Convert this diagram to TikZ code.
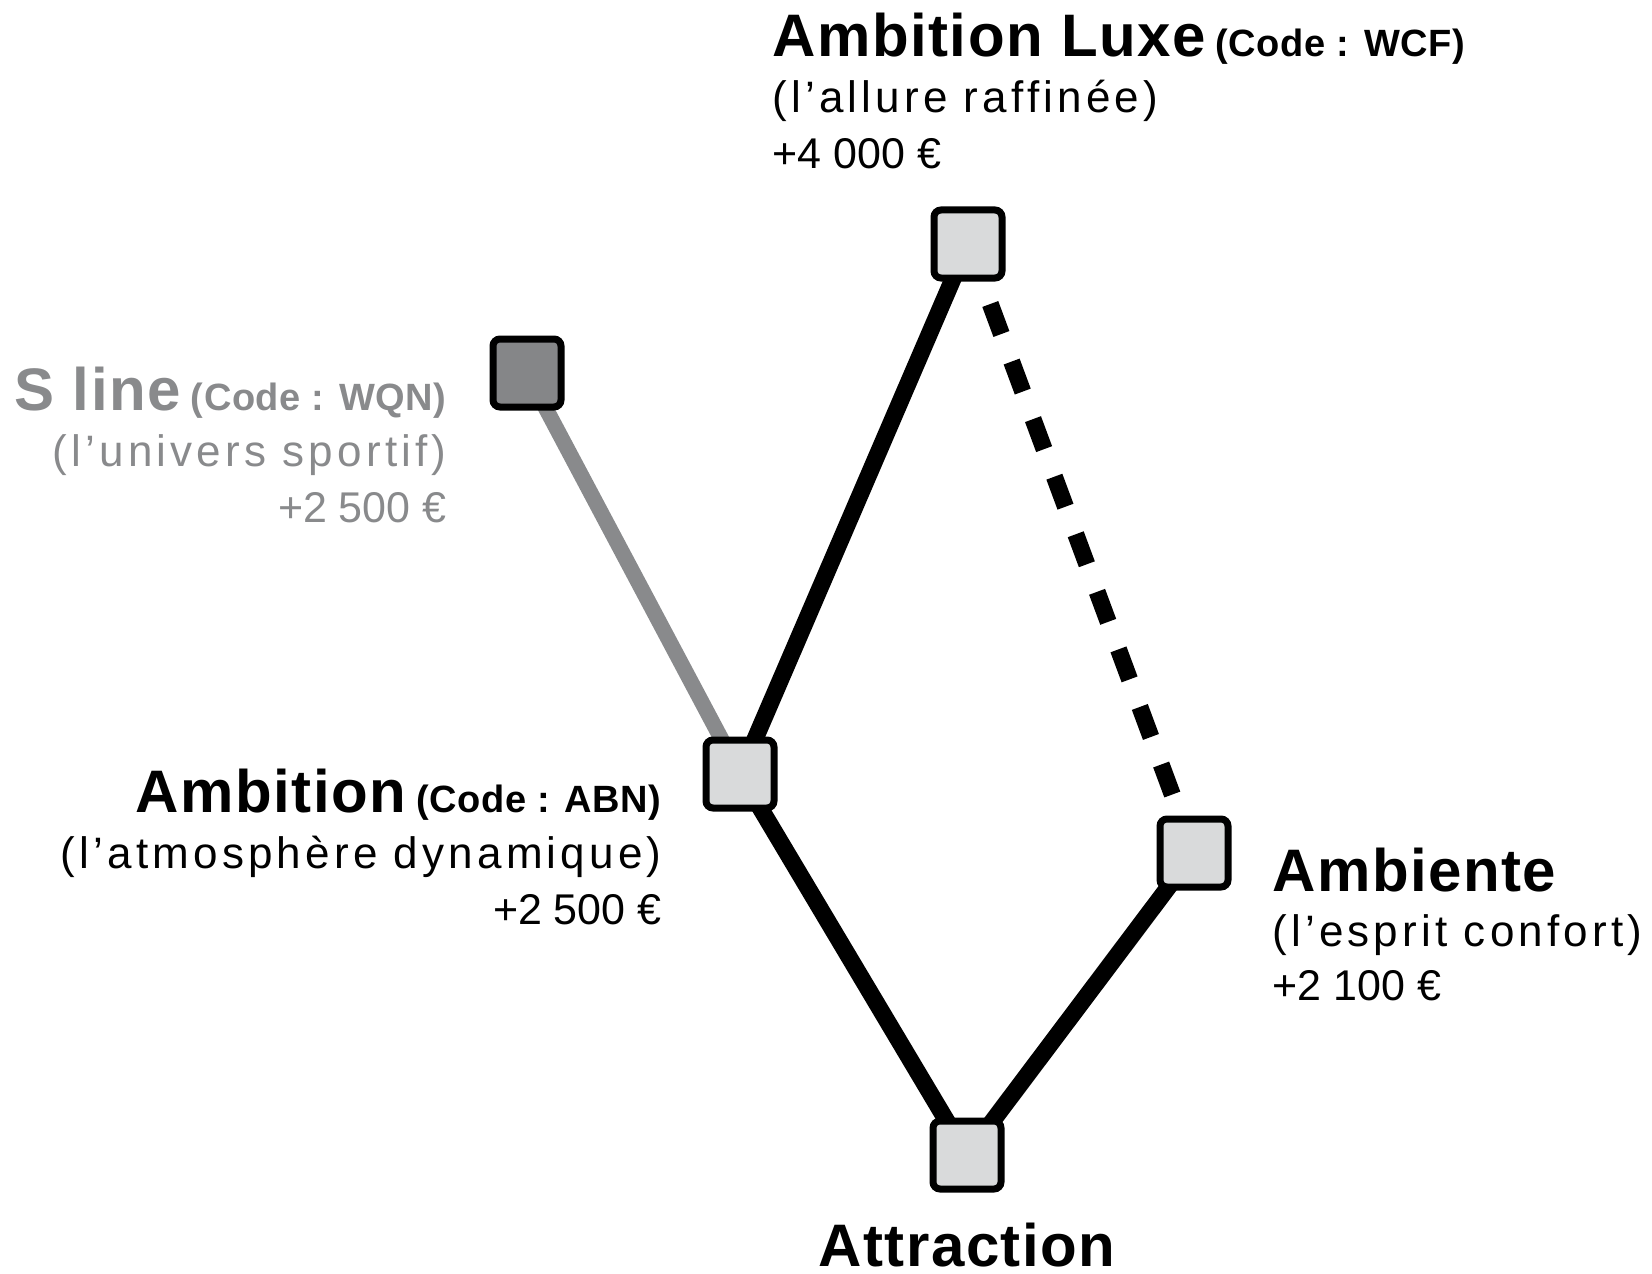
\documentclass[tikz,border=0pt]{standalone}
\usepackage{fontspec}
\setmainfont{Liberation Sans}
\newfontfamily\headfont[LetterSpace=2.5]{Liberation Sans}
\newfontfamily\codefont[LetterSpace=1.5]{Liberation Sans}
\newfontfamily\subfont[LetterSpace=9.5]{Liberation Sans}
\newfontfamily\pricefont{Liberation Sans}
\newcommand\codesz{\codefont\bfseries\fontsize{19}{19}\selectfont}
\usetikzlibrary{backgrounds}
\definecolor{boxfill}{HTML}{D9DADB}
\definecolor{sfill}{HTML}{858688}
\definecolor{greyc}{HTML}{898A8C}
\tikzset{
  box/.style={draw=black, line width=3.5pt, rounded corners=3.5pt, minimum width=34pt, minimum height=34pt, inner sep=0pt, fill=boxfill},
  sbox/.style={box, fill=sfill},
  link/.style={line width=8.5pt, draw=black},
  glink/.style={line width=7.75pt, draw=greyc},
  dlink/.style={line width=8.5pt, draw=black, dash pattern=on 16pt off 14.7pt},
  head/.style={inner sep=0pt, font=\headfont\bfseries\fontsize{30}{30}\selectfont},
  sub/.style={inner sep=0pt, font=\subfont\fontsize{22}{22}\selectfont},
  price/.style={inner sep=0pt, font=\pricefont\fontsize{21.5}{21.5}\selectfont},
}
\begin{document}
\begin{tikzpicture}[x=0.5pt, y=-0.5pt]
\useasboundingbox (0,0) rectangle (1652,1273);
% boxes
\node[box]  (luxe)  at (968,244)  {};
\node[sbox] (sline) at (527,373)  {};
\node[box]  (amb)   at (740,774)  {};
\node[box]  (ambte) at (1194,853) {};
\node[box]  (attr)  at (967,1155) {};
% connectors
\begin{pgfonlayer}{background}
\draw[glink] (sline.center) -- (amb.center);
\draw[link] (amb.center) -- (luxe.center);
\draw[link] (amb.center) -- (attr.center);
\draw[link] (attr.center) -- (ambte.center);
\draw[dlink, shorten <=32pt, shorten >=31pt] (luxe.center) -- (ambte.center);
\end{pgfonlayer}
% labels: Ambition Luxe
\node[head, anchor=base west] (luxeH) at (772,57) {Ambition Luxe\hspace{5pt}{\codesz(Code : WCF)}};
\node[sub, anchor=base west] (luxeS) at (772,113) {(l’allure raffinée)};
\node[price, anchor=base west] (luxeP) at (772,169) {+4 000 €};
% S line
\node[head, anchor=base east, text=greyc] (slH) at (447,410) {S line\hspace{5pt}{\codesz(Code : WQN)}};
\node[sub, anchor=base east, text=greyc] (slS) at (447,466) {(l’univers sportif)};
\node[price, anchor=base east, text=greyc] (slP) at (447,522) {+2 500 €};
% Ambition
\node[head, anchor=base east] (ambH) at (662,812) {Ambition\hspace{5pt}{\codesz(Code : ABN)}};
\node[sub, anchor=base east] (ambS) at (662,868) {(l’atmosphère dynamique)};
\node[price, anchor=base east] (ambP) at (662,924) {+2 500 €};
% Ambiente
\node[head, anchor=base west] (ambteH) at (1272,891) {Ambiente};
\node[sub, anchor=base west] (ambteS) at (1272,946) {(l’esprit confort)};
\node[price, anchor=base west] (ambteP) at (1272,1000) {+2 100 €};
% Attraction
\node[head, anchor=base] (attrH) at (967,1266) {Attraction};
\end{tikzpicture}
\end{document}
